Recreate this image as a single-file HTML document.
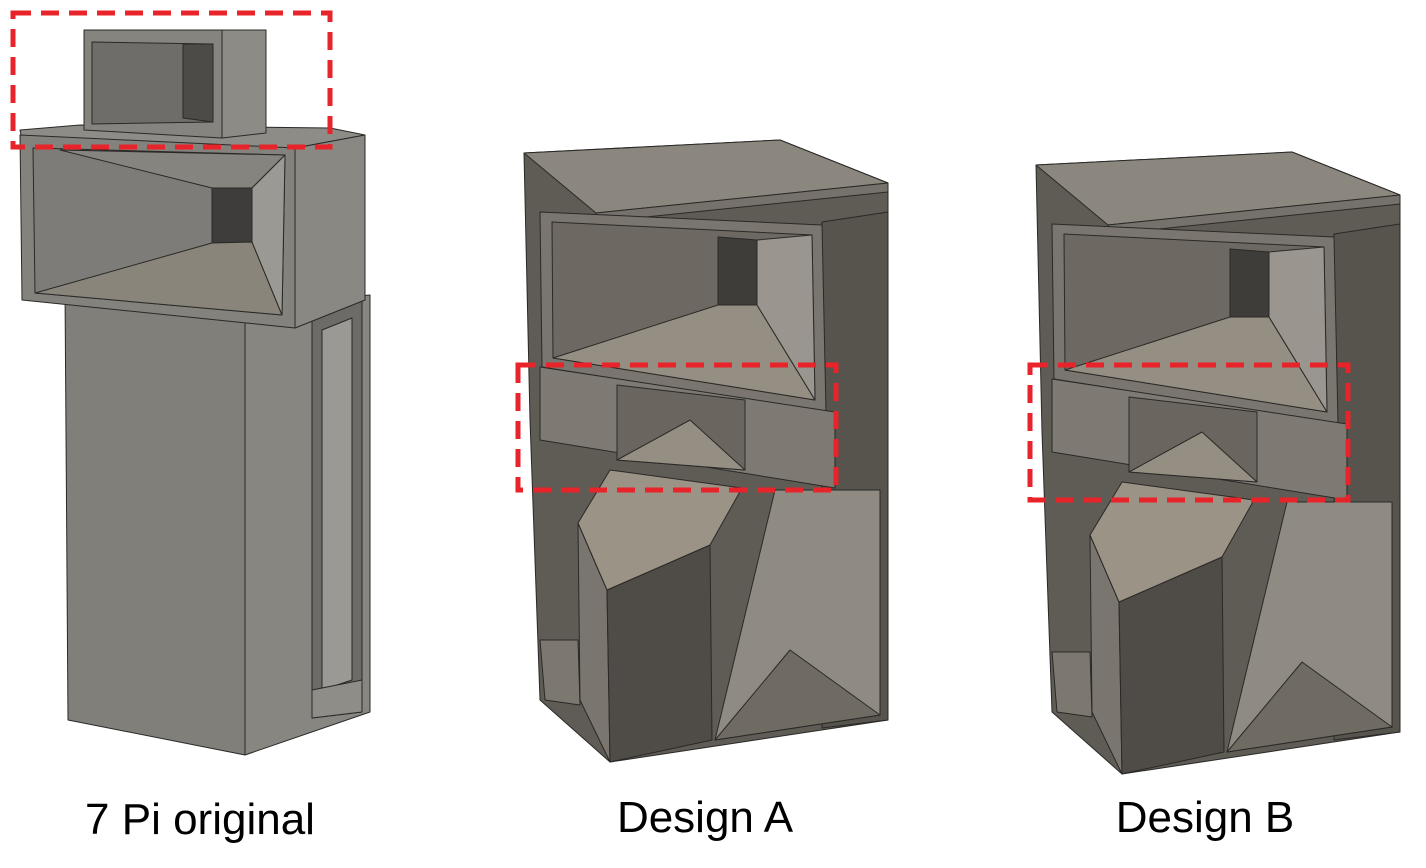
<!DOCTYPE html>
<html><head><meta charset="utf-8"><style>
html,body{margin:0;padding:0;background:#fff}
svg{display:block}
text{font-family:"Liberation Sans",sans-serif;fill:#000}
</style></head><body>
<svg width="1426" height="868" viewBox="0 0 1426 868" xmlns="http://www.w3.org/2000/svg">
<g stroke="#2a2927" stroke-width="1" stroke-linejoin="round">
<!-- 7 Pi original -->
<polygon points="245,300 310,300 370,295 370,712 245,755" fill="#878681"/>
<polygon points="312,310 362,300 362,712 312,718" fill="#6c6b67"/>
<polygon points="322,330 352,318 352,680 322,690" fill="#9a9994"/>
<polygon points="312,690 362,680 362,712 312,718" fill="#8f8d87"/>
<polygon points="65,290 245,300 245,755 68,720" fill="#807f7a"/>
<polygon points="20,130 80,125 330,128 365,135 295,148 22,140" fill="#8d8c87"/>
<polygon points="295,148 365,135 365,300 295,328" fill="#898883"/>
<polygon points="20,135 295,148 295,328 22,300" fill="#83827d"/>
<polygon points="33,148 285,155 282,315 35,293" fill="#7d7c78"/>
<polygon points="60,150 285,155 252,188 212,188" fill="#85847e"/>
<polygon points="212,188 252,188 252,242 212,243" fill="#3e3d3b"/>
<polygon points="35,293 212,243 252,242 282,315" fill="#8a857b"/>
<polygon points="252,188 285,155 282,315 252,242" fill="#9a9994"/>
<polygon points="84,30 222,30 222,138 84,130" fill="#85847f"/>
<polygon points="222,30 266,30 266,133 222,138" fill="#8c8b86"/>
<polygon points="92,42 213,44 213,122 92,124" fill="#6e6d69"/>
<polygon points="183,44 213,44 213,122 183,118" fill="#4c4b48"/>
</g>
<g id="A" stroke="#2a2927" stroke-width="1" stroke-linejoin="round">
<polygon points="524,153 780,140 888,183 888,720 610,762 540,700 530,420" fill="#5f5b55"/>
<polygon points="822,222 888,212 888,720 822,728" fill="#57534d"/>
<polygon points="775,490 880,490 880,715 715,740" fill="#8f8b83"/>
<polygon points="715,740 790,650 880,715" fill="#6f6a62"/>
<polygon points="540,640 578,640 580,705 545,700" fill="#7d786f"/>
<polygon points="524,153 780,140 888,183 596,213" fill="#8c877e"/>
<polygon points="596,213 888,183 888,192 598,222" fill="#76726b"/>
<polygon points="540,212 822,225 826,412 542,367" fill="#7a766f"/>
<polygon points="552,222 812,235 815,400 553,358" fill="#6d6962"/>
<polygon points="718,237 757,240 757,305 718,305" fill="#3f3d3a"/>
<polygon points="553,358 718,305 757,305 815,400" fill="#958e82"/>
<polygon points="757,240 812,235 815,400 757,305" fill="#9a968f"/>
<polygon points="540,367 835,412 835,488 540,440" fill="#7e7a73"/>
<polygon points="617,385 745,400 745,470 617,460" fill="#6a665f"/>
<polygon points="617,460 690,420 745,470" fill="#958e82"/>
<polygon points="578,523 607,590 610,762 580,700" fill="#7a766f"/>
<polygon points="607,590 710,545 712,740 610,762" fill="#4f4b46"/>
<polygon points="578,523 610,470 742,488 710,545 607,590" fill="#9b9386"/>
</g>
<use href="#A" transform="translate(512,12)"/>
<g fill="none" stroke="#e8232a" stroke-width="5" stroke-dasharray="18 10">
<rect x="13" y="13" width="317" height="134"/>
<rect x="518" y="365" width="318" height="125"/>
<rect x="1030" y="365" width="318" height="135"/>
</g>
<text x="200" y="834" font-size="44" text-anchor="middle">7 Pi original</text>
<text x="705" y="832" font-size="44" text-anchor="middle">Design A</text>
<text x="1205" y="832" font-size="44" text-anchor="middle">Design B</text>
</svg>
</body></html>
